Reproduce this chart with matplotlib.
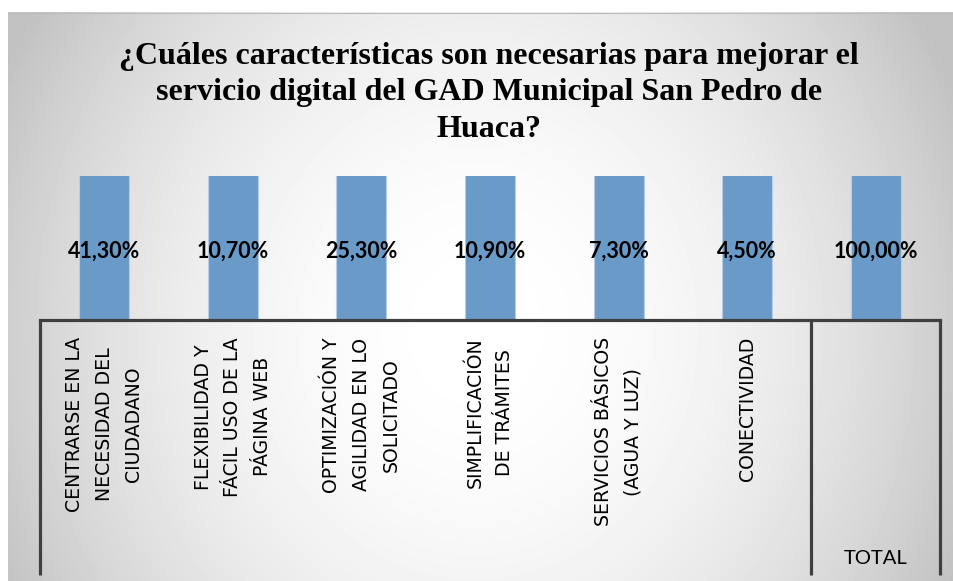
import numpy as np
import matplotlib
matplotlib.use("Agg")
import matplotlib.pyplot as plt

categories = [
    "CENTRARSE EN LA\nNECESIDAD DEL\nCIUDADANO",
    "FLEXIBILIDAD Y\nFÁCIL USO DE LA\nPÁGINA WEB",
    "OPTIMIZACIÓN Y\nAGILIDAD EN LO\nSOLICITADO",
    "SIMPLIFICACIÓN\nDE TRÁMITES",
    "SERVICIOS BÁSICOS\n(AGUA Y LUZ)",
    "CONECTIVIDAD",
    "",
]
group_labels = ["", "TOTAL"]
group_sizes = [6, 1]
values = [41.3, 10.7, 25.3, 10.9, 7.3, 4.5, 100.0]
title = ("¿Cuáles características son necesarias para mejorar el\n"
         "servicio digital del GAD Municipal San Pedro de\nHuaca?")

W, H = 954, 581
fig = plt.figure(figsize=(W / 100, H / 100), dpi=100)

# background with radial gray gradient
bg = fig.add_axes([0, 0, 1, 1], zorder=-1)
bg.set_xlim(0, W)
bg.set_ylim(H, 0)
bg.axis("off")
xx, yy = np.meshgrid(np.arange(8, W), np.arange(12, H))
shade = 1 - 0.19 * ((xx - 475) / 467) ** 2 - 0.07 * ((yy - 330) / 318) ** 2
shade = np.clip(shade, 0.76, 1.0)
bg.imshow(shade, cmap="gray", vmin=0, vmax=1, extent=[8, W, H, 12],
          aspect="auto", interpolation="bilinear")
bg.plot([8, W], [12.5, 12.5], color="#bdbdbd", lw=0.8)

# bar axes: bottom edge at y=320 px, top at 176 px
top_px, bot_px = 176, 320
ax = fig.add_axes([40 / W, (H - bot_px) / H, 900 / W, (bot_px - top_px) / H])
ax.patch.set_alpha(0)

def ay(py):
    return (bot_px - py) / (bot_px - top_px)

x = np.arange(len(values))
ax.bar(x, values, width=0.39, color="#6a9bc8", edgecolor="#b7cde6", linewidth=0.8)
ax.set_xlim(-0.5, len(values) - 0.5)
ax.set_ylim(0, 4)  # value axis cut low, so every bar fills the plot height

for xi, v in zip(x, values):
    ax.text(xi, 0.48, f"{v:.2f}%".replace(".", ","), transform=ax.get_xaxis_transform(),
            ha="center", va="center", fontsize=15.5, fontweight="bold",
            family=["Lato", "DejaVu Sans"], color="black")

for s in ["top", "left", "right"]:
    ax.spines[s].set_visible(False)
ax.spines["bottom"].set_linewidth(2.3)
ax.spines["bottom"].set_color("#3f3f3f")
ax.set_xticks([])
ax.set_yticks([])

# multi-level category axis
for xi, lab in zip(x, categories):
    ax.text(xi, ay(337), lab, transform=ax.get_xaxis_transform(), rotation=90,
            ha="center", va="top", multialignment="center", fontsize=13.6,
            family="DejaVu Sans", linespacing=1.7, color="black")

edges = np.concatenate([[0], np.cumsum(group_sizes)]) - 0.5
for e in edges:
    ax.plot([e, e], [0, ay(575)], transform=ax.get_xaxis_transform(),
            color="#3f3f3f", lw=2.3, clip_on=False, solid_capstyle="butt")
start = 0
for n, g in zip(group_sizes, group_labels):
    ax.text(start + (n - 1) / 2, ay(559), g, transform=ax.get_xaxis_transform(),
            ha="center", va="center", fontsize=14.5, family=["Lato", "DejaVu Sans"])
    start += n

serif = ["Liberation Serif", "DejaVu Serif"]
fig.text(489 / W, (H - 137) / H, title, ha="center", va="baseline",
         fontsize=23, fontweight="bold", family=serif,
         linespacing=1.35, multialignment="center")

fig.savefig("out.png", dpi=100)
